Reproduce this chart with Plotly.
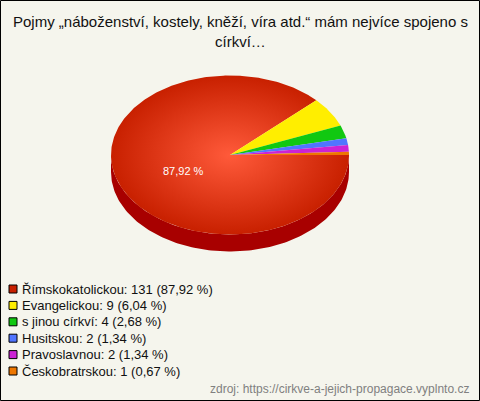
import numpy as np
import plotly.graph_objects as go

# ---- data ----
categories = ["Římskokatolickou", "Evangelickou", "s jinou církví", "Husitskou", "Pravoslavnou", "Českobratrskou"]
counts = [131, 9, 4, 2, 2, 1]
percent_labels = ["87,92 %", "6,04 %", "2,68 %", "1,34 %", "1,34 %", "0,67 %"]
colors = ["#c82000", "#ffee00", "#11c811", "#5075ff", "#cc22d4", "#ee7700"]
side_colors = ["#a80000", "#c0b000", "#009000", "#3050c0", "#9010a0", "#b05000"]
center_colors = ["#ff5a3a", "#ffff40", "#33ee33", "#6a8cff", "#ee44ee", "#ff9930"]
title_text = "Pojmy „náboženství, kostely, kněží, víra atd.“ mám nejvíce spojeno s<br>církví…"
source_text = "zdroj: https://cirkve-a-jejich-propagace.vyplnto.cz"

W, H = 480, 401
cx, cy, rx, ry, depth = 230, 155, 119, 79.5, 17
FONT = "Liberation Sans, Arial, sans-serif"

total = sum(counts)
fracs = np.array(counts) / total
bounds = np.concatenate([[0.0], np.cumsum(fracs)]) * 2 * np.pi

fig = go.Figure()

# side (front half only, angles 0..pi on screen, y pointing down)
for i in range(len(counts)):
    a0, a1 = max(bounds[i], 0.0), min(bounds[i + 1], np.pi)
    if a1 <= a0:
        continue
    t = np.linspace(a0, a1, 150)
    xs = cx + rx * np.cos(t)
    ys = cy + ry * np.sin(t)
    px = np.concatenate([xs, xs[::-1]])
    py = np.concatenate([ys, (ys + depth)[::-1]])
    fig.add_trace(go.Scatter(x=px, y=py, mode="lines", fill="toself",
                             fillcolor=side_colors[i], line=dict(width=0),
                             hoverinfo="skip", showlegend=False))

# top face wedges
for i in range(len(counts)):
    n = max(4, int(400 * fracs[i]))
    t = np.linspace(bounds[i], bounds[i + 1], n)
    px = np.concatenate([[cx], cx + rx * np.cos(t), [cx]])
    py = np.concatenate([[cy], cy + ry * np.sin(t), [cy]])
    kw = {}
    if i == 0:
        kw["fillgradient"] = dict(type="radial",
                                  colorscale=[[0, center_colors[i]], [1, colors[i]]])
    fig.add_trace(go.Scatter(x=px, y=py, mode="lines", fill="toself",
                             fillcolor=colors[i], line=dict(width=0),
                             hoverinfo="skip", showlegend=False, **kw))

# slice label (only large slice)
for i in range(len(counts)):
    if fracs[i] < 0.1:
        continue
    mid = (bounds[i] + bounds[i + 1]) / 2
    fig.add_annotation(x=cx + 0.42 * rx * np.cos(mid), y=cy + 0.55 * ry * np.sin(mid),
                       text=percent_labels[i], showarrow=False,
                       font=dict(family=FONT, size=11, color="#ffffff"))

# legend
leg_y0, leg_dy = 289, 16.4
leg_y = [leg_y0 + k * leg_dy for k in range(len(categories))]
fig.add_trace(go.Scatter(x=[13] * len(categories), y=leg_y, mode="markers",
                         marker=dict(symbol="square", size=8, color=colors,
                                     line=dict(width=1, color="#000000")),
                         hoverinfo="skip", showlegend=False))
for k in range(len(categories)):
    fig.add_annotation(x=20, y=leg_y[k], xanchor="left", yanchor="middle",
                       text=f"{categories[k]}: {counts[k]} ({percent_labels[k]})",
                       showarrow=False, font=dict(family=FONT, size=13, color="#111111"))

# title
fig.add_annotation(x=240, y=31.5, xanchor="center", yanchor="middle", text=title_text,
                   showarrow=False, font=dict(family=FONT, size=15, color="#111111"))

# source
fig.add_annotation(x=471, y=389, xanchor="right", yanchor="middle", text=source_text,
                   showarrow=False, font=dict(family=FONT, size=12, color="#808080"))

# border
fig.add_shape(type="rect", x0=0.5, x1=W - 0.5, y0=0.5, y1=H - 0.5,
              line=dict(color="#000000", width=1), layer="above")

fig.update_layout(
    width=W, height=H, margin=dict(l=0, r=0, t=0, b=0),
    paper_bgcolor="#f5f5ed", plot_bgcolor="#f5f5ed",
    xaxis=dict(range=[0, W], visible=False, fixedrange=True),
    yaxis=dict(range=[H, 0], visible=False, fixedrange=True),
    hovermode=False, showlegend=False,
)

fig.write_html("out.html", config={"displayModeBar": False},
               post_script="document.body.style.margin='0';document.body.style.overflow='hidden';")
